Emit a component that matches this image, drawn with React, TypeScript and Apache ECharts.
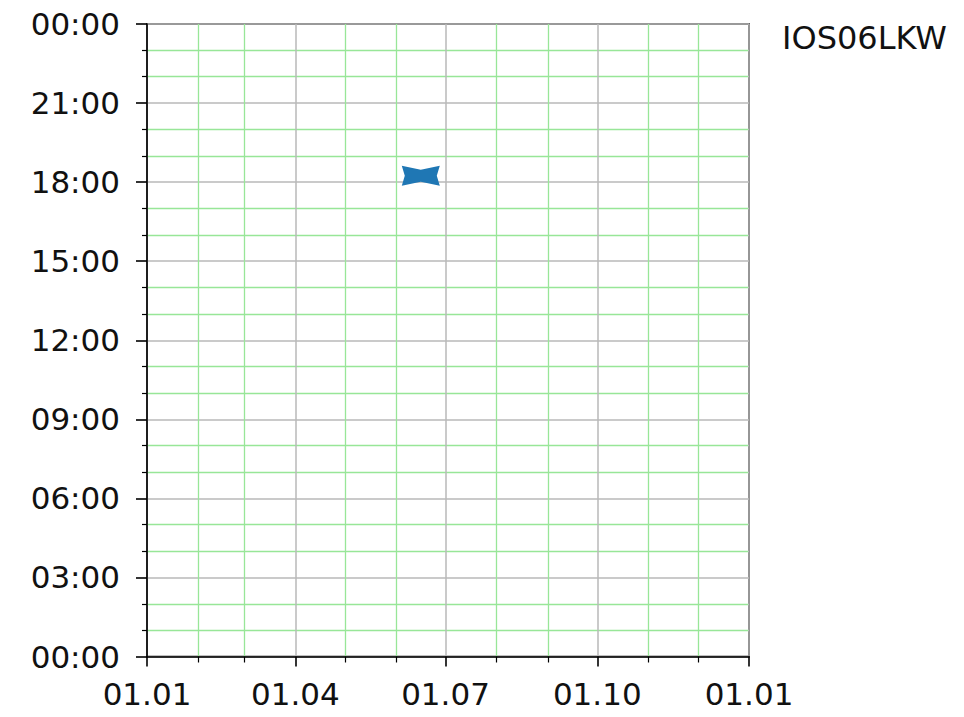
import React, { useEffect, useRef } from "react";
import * as echarts from "echarts";

const YEAR = 2021;
const majorMonths = [0, 3, 6, 9, 12];
const minorMonths = [1, 2, 4, 5, 7, 8, 10, 11];
const title = "IOS06LKW";
const pointDates = ["2021-06-16"];
const pointHours = [18.24];

const DAY = 86400000;
const t0 = Date.UTC(YEAR, 0, 1);
const dayOf = (y: number, m: number, d: number) => (Date.UTC(y, m, d) - t0) / DAY;
const monthDay = (m: number) => dayOf(YEAR, m, 1);
const pad = (n: number) => (n < 10 ? "0" + n : "" + n);

const bowtie =
  "path://M0,0 L19,4 L38,0 L35,10 L38,20 L19,16 L0,20 L3,10 Z";

export default function App() {
  const ref = useRef<HTMLDivElement>(null);
  useEffect(() => {
    if (!ref.current) return;
    const chart = echarts.init(ref.current, undefined, { renderer: "svg" });
    const font = "DejaVu Sans";
    const data = pointDates.map((s, i) => {
      const [y, m, d] = s.split("-").map(Number);
      return [dayOf(y, m - 1, d), pointHours[i]];
    });
    chart.setOption({
      animation: false,
      backgroundColor: "#ffffff",
      grid: {
        left: 147,
        top: 24,
        width: 602,
        height: 632.5,
        show: true,
        borderColor: "#000",
        borderWidth: 1.6,
        backgroundColor: "transparent",
      },
      graphic: [
        {
          type: "text",
          x: 782,
          y: 38,
          style: {
            text: title,
            font: `32px "${font}"`,
            fill: "#111",
            textVerticalAlign: "middle",
            textAlign: "left",
          },
        },
      ],
      xAxis: [
        {
          type: "value",
          min: monthDay(0),
          max: monthDay(12),
          position: "bottom",
          axisLine: { show: true, lineStyle: { color: "#000", width: 1.6 } },
          axisTick: {
            show: true,
            length: 10,
            customValues: majorMonths.map(monthDay),
            lineStyle: { color: "#000", width: 1.6 },
          },
          axisLabel: {
            customValues: majorMonths.map(monthDay),
            formatter: (v: number) => {
              const d = new Date(t0 + v * DAY);
              return pad(d.getUTCDate()) + "." + pad(d.getUTCMonth() + 1);
            },
            fontFamily: font,
            fontSize: 31,
            color: "#111",
            margin: 22,
            showMinLabel: true,
            showMaxLabel: true,
            hideOverlap: false,
          },
          splitLine: { show: true, lineStyle: { color: "#b8b8b8", width: 1.5 } },
        },
        {
          type: "value",
          min: monthDay(0),
          max: monthDay(12),
          position: "bottom",
          axisLine: { show: false },
          axisTick: {
            show: true,
            length: 6,
            customValues: minorMonths.map(monthDay),
            lineStyle: { color: "#000", width: 1.2 },
          },
          axisLabel: { show: false, customValues: minorMonths.map(monthDay) },
          splitLine: { show: true, lineStyle: { color: "#98e698", width: 1.3 } },
        },
      ],
      yAxis: {
        type: "value",
        min: 0,
        max: 24,
        interval: 3,
        axisLine: { show: true, lineStyle: { color: "#000", width: 1.6 } },
        axisTick: { show: true, length: 11, lineStyle: { color: "#000", width: 1.6 } },
        minorTick: { show: true, splitNumber: 3, length: 5, lineStyle: { color: "#000", width: 1.2 } },
        axisLabel: {
          formatter: (v: number) => pad(v % 24) + ":00",
          fontFamily: font,
          fontSize: 31,
          color: "#111",
          margin: 27,
        },
        splitLine: { show: true, lineStyle: { color: "#b8b8b8", width: 1.5 } },
        minorSplitLine: { show: true, lineStyle: { color: "#98e698", width: 1.3 } },
      },
      series: [
        {
          type: "scatter",
          xAxisIndex: 0,
          data,
          symbol: bowtie,
          symbolSize: [38, 20],
          itemStyle: { color: "#1f77b4", opacity: 1 },
          z: 5,
        },
      ],
    });
    return () => chart.dispose();
  }, []);
  return (
    <div
      ref={ref}
      style={{ position: "fixed", left: 0, top: 0, width: 964, height: 717 }}
    />
  );
}
